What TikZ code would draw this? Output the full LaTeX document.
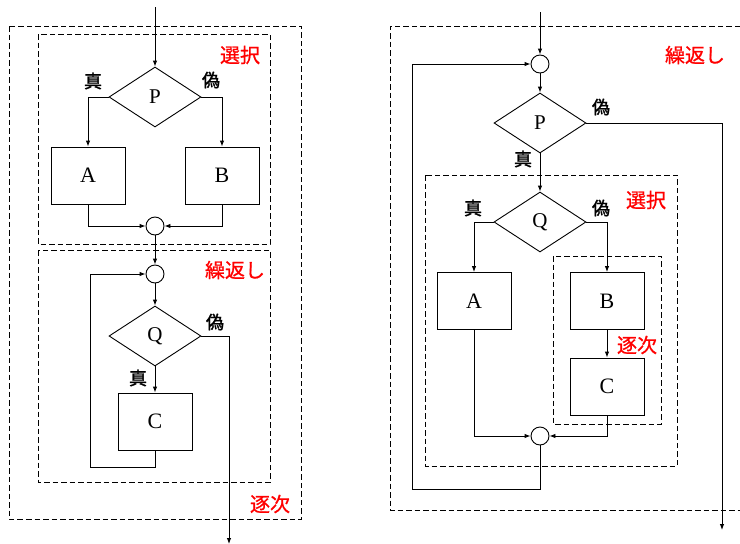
\documentclass[tikz,border=0pt]{standalone}
\usepackage{fontspec}
\setmainfont{Liberation Serif}
\newfontfamily\jpfont{Noto Sans CJK JP}[FakeBold=1.6]
\newfontfamily\jpred{Noto Sans CJK JP}[FakeBold=0.9]
\usetikzlibrary{shapes.geometric,arrows.meta}
\tikzset{
  x=1pt,y=-1pt,
  dia/.style={draw,line width=0.9pt,shape=diamond,minimum width=92pt,minimum height=60pt,inner sep=0pt,font=\fontsize{21}{21}\selectfont},
  box/.style={draw,line width=0.9pt,rectangle,minimum width=74pt,minimum height=57pt,inner sep=0pt,font=\fontsize{22}{22}\selectfont},
  circ/.style={draw,line width=0.9pt,circle,minimum size=18pt,inner sep=0pt},
  arr/.style={line width=0.9pt,-{Latex[length=6pt,width=4.5pt]}},
  dbox/.style={line width=1pt,dash pattern=on 5.5pt off 3pt},
  tf/.style={font=\jpfont\fontsize{18}{18}\selectfont,inner sep=0pt},
  lab/.style={font=\jpred\fontsize{20}{20}\selectfont,text=red,inner sep=0pt},
}
\begin{document}
\begin{tikzpicture}
\useasboundingbox (0,0) rectangle (740,544);
% ---------- left diagram ----------
\draw[dbox] (9,26) rectangle (301,519);
\draw[dbox] (38,34) rectangle (270,244);
\draw[dbox] (38,250) rectangle (270,482);
\node[lab] (lsel) at (240,55) {選択};
\node[lab] (lrep) at (235,270) {繰返し};
\node[lab] (lseq) at (270,504) {逐次};

\coordinate (in1) at (155,7);
\node[dia] (P1) at (155,97) {P};
\node[box] (A1) at (88,175.5) {A};
\node[box] (B1) at (222,175.5) {B};
\node[circ] (J1) at (155,226) {};
\node[circ] (L1) at (155,274) {};
\node[dia] (Q1) at (155,336) {Q};
\node[box] (C1) at (155,421.5) {C};
\coordinate (lp1) at (90,467);
\coordinate (out1) at (229,544);

\node[tf] (t1) at (93,81) {真};
\node[tf] (f1) at (211,80) {偽};
\node[tf] (f2) at (215,322) {偽};
\node[tf] (t2) at (138,378) {真};

\draw[arr] (in1) -- (P1.north);
\draw[arr] (P1.west) -| (A1.north);
\draw[arr] (P1.east) -| (B1.north);
\draw[arr] (A1.south) |- (J1.west);
\draw[arr] (B1.south) |- (J1.east);
\draw[arr] (J1.south) -- (L1.north);
\draw[arr] (L1.south) -- (Q1.north);
\draw[arr] (Q1.south) -- (C1.north);
\draw[arr] (C1.south) |- (lp1) |- (L1.west);
\draw[arr] (Q1.east) -| (out1);

% ---------- right diagram ----------
\draw[dbox] (740,26) -- (390,26) -- (390,510) -- (740,510);
\draw[dbox] (425,175) rectangle (677,466);
\draw[dbox] (553,256) rectangle (661,424);
\node[lab] (rrep) at (695,55) {繰返し};
\node[lab] (rsel) at (646,200) {選択};
\node[lab] (rseq) at (637,345) {逐次};

\coordinate (in2) at (540,12);
\node[circ] (L2) at (540,64) {};
\node[dia] (P2) at (540,123) {P};
\node[dia] (Q2) at (540,222) {Q};
\node[box] (A2) at (474,301) {A};
\node[box] (B2) at (607,301) {B};
\node[box] (C2) at (607,386.5) {C};
\node[circ] (J2) at (540,436) {};
\coordinate (lp2) at (412,489);
\coordinate (out2) at (722,530);

\node[tf] (f3) at (601,107) {偽};
\node[tf] (t3) at (523,159) {真};
\node[tf] (t4) at (473,208) {真};
\node[tf] (f4) at (601,208) {偽};

\draw[arr] (in2) -- (L2.north);
\draw[arr] (L2.south) -- (P2.north);
\draw[arr] (P2.south) -- (Q2.north);
\draw[arr] (Q2.west) -| (A2.north);
\draw[arr] (Q2.east) -| (B2.north);
\draw[arr] (B2.south) -- (C2.north);
\draw[arr] (A2.south) |- (J2.west);
\draw[arr] (C2.south) |- (J2.east);
\draw[arr] (J2.south) |- (lp2) |- (L2.west);
\draw[arr] (P2.east) -| (out2);
\end{tikzpicture}
\end{document}
